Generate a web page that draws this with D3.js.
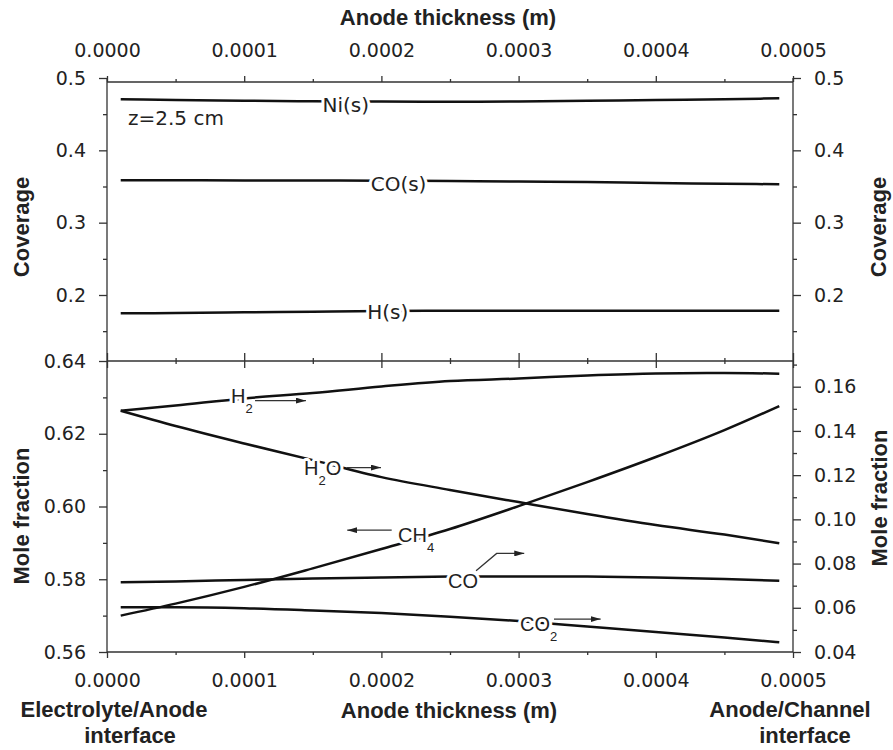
<!DOCTYPE html>
<html>
<head>
<meta charset="utf-8">
<script src="https://cdn.jsdelivr.net/npm/d3@7"></script>
<style>
  body { margin: 0; background: #fff; }
  svg { display: block; }
  .tick text { font-family: "DejaVu Sans", Verdana, sans-serif; font-size: 19px; fill: #222; }
  .tick line { stroke: #333; stroke-width: 1.3; }
  .axis .domain { display: none; }
  .frame { stroke: #333; stroke-width: 1.3; fill: none; }
  .title { font-family: "Liberation Sans", Arial, sans-serif; font-weight: bold; font-size: 22px; fill: #222; }
  .curve { fill: none; stroke: #111; stroke-width: 2.5; }
  .cov-label { font-family: "DejaVu Sans", Verdana, sans-serif; font-size: 20px; fill: #222; }
  .gas-label { font-family: "Liberation Sans", Arial, sans-serif; font-size: 20px; fill: #222; }
  .halo { paint-order: stroke; stroke: #fff; stroke-width: 6; stroke-linejoin: round; }
  .arrow { fill: none; stroke: #333; stroke-width: 1.3; }
</style>
</head>
<body>
<svg id="chart" width="893" height="750"></svg>
<script>
(function () {
  "use strict";

  // anode thickness (m)
  const thickness = [0.00001, 0.00005, 0.0001, 0.00015, 0.0002, 0.00025, 0.0003, 0.00035, 0.0004, 0.00045, 0.00049];

  // surface coverages (top panel)
  const niS = [0.4706, 0.4696, 0.4686, 0.4678, 0.4675, 0.4672, 0.4675, 0.4685, 0.4696, 0.4707, 0.4719];
  const coS = [0.3586, 0.3586, 0.3583, 0.3583, 0.3580, 0.3576, 0.3569, 0.3562, 0.3548, 0.3539, 0.3530];
  const hS = [0.1747, 0.1751, 0.1761, 0.1769, 0.1779, 0.1783, 0.1783, 0.1783, 0.1783, 0.1783, 0.1783];

  // mole fractions (bottom panel); ch4 on left axis, the rest on right axis
  const ch4 = [0.5700, 0.5733, 0.5779, 0.5830, 0.5883, 0.5938, 0.6001, 0.6067, 0.6136, 0.6210, 0.6276];
  const h2 = [0.1491, 0.1515, 0.1547, 0.1571, 0.1601, 0.1626, 0.1637, 0.1651, 0.1660, 0.1662, 0.1659];
  const h2o = [0.1491, 0.1422, 0.1343, 0.1268, 0.1191, 0.1133, 0.1078, 0.1024, 0.0974, 0.0931, 0.0892];
  const co = [0.0715, 0.0719, 0.0726, 0.0732, 0.0737, 0.0741, 0.0742, 0.0741, 0.0737, 0.0730, 0.0722];
  const co2 = [0.0602, 0.0602, 0.0598, 0.0588, 0.0576, 0.0560, 0.0540, 0.0515, 0.0490, 0.0466, 0.0444];

  // ticks
  const xMajor = [0, 0.0001, 0.0002, 0.0003, 0.0004, 0.0005];
  const xMinor = [0.00005, 0.00015, 0.00025, 0.00035, 0.00045];
  const covMajor = [0.2, 0.3, 0.4, 0.5];
  const covMinor = [0.15, 0.25, 0.35, 0.45];
  const leftMajor = [0.56, 0.58, 0.60, 0.62, 0.64];
  const leftMinor = [0.57, 0.59, 0.61, 0.63];
  const rightMajor = [0.04, 0.06, 0.08, 0.10, 0.12, 0.14, 0.16];
  const rightMinor = [0.05, 0.07, 0.09, 0.11, 0.13, 0.15, 0.17];

  const svg = d3.select("#chart");
  const L = 107, R = 793, T = 82, MID = 361, B = 652;

  const x = d3.scaleLinear().domain([0, 0.0005]).range([L, R]);
  const yCov = d3.scaleLinear().domain([0.5, 0.2]).range([78, 295]);
  const yLeft = d3.scaleLinear().domain([0.56, 0.64]).range([B, MID]);
  const yRight = d3.scaleLinear().domain([0.04, 0.16]).range([B, 386.7]);

  const f4 = d3.format(".4f");

  function addAxis(axis, tx, ty) {
    const g = svg.append("g").attr("class", "axis").attr("transform", `translate(${tx},${ty})`).call(axis);
    return g;
  }

  // x axes: top, bottom, and crossing ticks on the panel divider
  addAxis(d3.axisTop(x).tickValues(xMajor).tickFormat(f4).tickSize(6).tickPadding(19), 0, T);
  addAxis(d3.axisTop(x).tickValues(xMinor).tickFormat("").tickSize(3), 0, T);
  addAxis(d3.axisBottom(x).tickValues(xMajor).tickFormat(f4).tickSize(6).tickPadding(15.5), 0, B);
  addAxis(d3.axisBottom(x).tickValues(xMinor).tickFormat("").tickSize(3), 0, B);
  addAxis(d3.axisBottom(x).tickValues(xMajor).tickFormat("").tickSize(7), 0, MID);
  addAxis(d3.axisTop(x).tickValues(xMajor).tickFormat("").tickSize(8), 0, MID);
  addAxis(d3.axisBottom(x).tickValues(xMinor).tickFormat("").tickSize(3), 0, MID);
  addAxis(d3.axisTop(x).tickValues(xMinor).tickFormat("").tickSize(3), 0, MID);

  // y axes
  const f1 = d3.format(".1f"), f2 = d3.format(".2f");
  addAxis(d3.axisLeft(yCov).tickValues(covMajor).tickFormat(f1).tickSize(8).tickPadding(13), L, 0);
  addAxis(d3.axisLeft(yCov).tickValues(covMinor).tickFormat("").tickSize(4), L, 0);
  addAxis(d3.axisRight(yCov).tickValues(covMajor).tickFormat(f1).tickSize(8).tickPadding(13), R, 0);
  addAxis(d3.axisRight(yCov).tickValues(covMinor).tickFormat("").tickSize(4), R, 0);
  addAxis(d3.axisLeft(yLeft).tickValues(leftMajor).tickFormat(f2).tickSize(8).tickPadding(13), L, 0);
  addAxis(d3.axisLeft(yLeft).tickValues(leftMinor).tickFormat("").tickSize(4), L, 0);
  addAxis(d3.axisRight(yRight).tickValues(rightMajor).tickFormat(f2).tickSize(8).tickPadding(13), R, 0);
  addAxis(d3.axisRight(yRight).tickValues(rightMinor).tickFormat("").tickSize(4), R, 0);

  // frame
  const top = yCov(0.5);
  svg.append("path").attr("class", "frame")
    .attr("d", `M${L},${top}V${B}H${R}V${top}M${L},${T}H${R}M${L},${MID}H${R}`);

  // curves
  function drawCurve(values, y) {
    const line = d3.line()
      .x((d, i) => x(thickness[i]))
      .y(d => y(d))
      .curve(d3.curveMonotoneX);
    svg.append("path").datum(values).attr("class", "curve").attr("d", line);
  }
  drawCurve(niS, yCov);
  drawCurve(coS, yCov);
  drawCurve(hS, yCov);
  drawCurve(ch4, yLeft);
  drawCurve(h2, yRight);
  drawCurve(h2o, yRight);
  drawCurve(co, yRight);
  drawCurve(co2, yRight);

  // coverage labels
  const covLabels = [
    { text: "Ni(s)", x: 0.000174, y: 0.4627, anchor: "middle", halo: true },
    { text: "CO(s)", x: 0.0002125, y: 0.3544, anchor: "middle", halo: true },
    { text: "H(s)", x: 0.0002046, y: 0.1769, anchor: "middle", halo: true },
    { text: "z=2.5 cm", x: 0.0000153, y: 0.4443, anchor: "start", halo: false }
  ];
  covLabels.forEach(d => {
    svg.append("text")
      .attr("class", "cov-label" + (d.halo ? " halo" : ""))
      .attr("x", x(d.x)).attr("y", yCov(d.y)).attr("dy", "0.36em")
      .attr("text-anchor", d.anchor)
      .text(d.text);
  });

  // gas labels with subscripts
  const gasLabels = [
    { main: "H", sub: "2", tail: "", x: 0.0000904, y: 0.1558, scale: yRight },
    { main: "H", sub: "2", tail: "O", x: 0.0001436, y: 0.1231, scale: yRight },
    { main: "CH", sub: "4", tail: "", x: 0.0002121, y: 0.5922, scale: yLeft },
    { main: "CO", sub: "", tail: "", x: 0.0002485, y: 0.0723, scale: yRight },
    { main: "CO", sub: "2", tail: "", x: 0.0003010, y: 0.0526, scale: yRight }
  ];
  gasLabels.forEach(d => {
    const t = svg.append("text")
      .attr("class", "gas-label halo")
      .attr("x", x(d.x)).attr("y", d.scale(d.y)).attr("dy", "0.36em");
    t.append("tspan").text(d.main);
    if (d.sub) t.append("tspan").attr("dy", 10).attr("font-size", 13).text(d.sub);
    if (d.tail) t.append("tspan").attr("dy", -10).text(d.tail);
  });

  // arrows pointing to the axis each curve belongs to
  svg.append("defs").append("marker")
    .attr("id", "head").attr("viewBox", "0 0 10 6")
    .attr("refX", 10).attr("refY", 3)
    .attr("markerWidth", 10).attr("markerHeight", 6)
    .attr("markerUnits", "userSpaceOnUse").attr("orient", "auto")
    .append("path").attr("d", "M0,0L10,3L0,6Z").attr("fill", "#222");

  const arrows = [
    { pts: [[0.0001079, 0.1537], [0.0001450, 0.1537]], scale: yRight },
    { pts: [[0.0001747, 0.1234], [0.0001997, 0.1234]], scale: yRight },
    { pts: [[0.0002075, 0.5935], [0.0001751, 0.5935]], scale: yLeft },
    { pts: [[0.0002690, 0.0768], [0.0002840, 0.0846], [0.0003041, 0.0846]], scale: yRight },
    { pts: [[0.0003258, 0.0549], [0.0003598, 0.0549]], scale: yRight }
  ];
  arrows.forEach(a => {
    svg.append("path")
      .attr("class", "arrow")
      .attr("marker-end", "url(#head)")
      .attr("d", d3.line().x(p => x(p[0])).y(p => a.scale(p[1]))(a.pts));
  });

  // axis titles
  const cx = (L + R) / 2;
  svg.append("text").attr("class", "title").attr("x", cx - 2).attr("y", 25)
    .attr("text-anchor", "middle").text("Anode thickness (m)");
  svg.append("text").attr("class", "title").attr("x", cx - 1).attr("y", 718)
    .attr("text-anchor", "middle").text("Anode thickness (m)");
  svg.append("text").attr("class", "title").attr("x", 114).attr("y", 717)
    .attr("text-anchor", "middle").text("Electrolyte/Anode");
  svg.append("text").attr("class", "title").attr("x", 130).attr("y", 743)
    .attr("text-anchor", "middle").text("interface");
  svg.append("text").attr("class", "title").attr("x", 790).attr("y", 717)
    .attr("text-anchor", "middle").text("Anode/Channel");
  svg.append("text").attr("class", "title").attr("x", 805).attr("y", 743)
    .attr("text-anchor", "middle").text("interface");

  function vTitle(text, tx, ty) {
    svg.append("text").attr("class", "title")
      .attr("transform", `translate(${tx},${ty}) rotate(-90)`)
      .attr("text-anchor", "middle").text(text);
  }
  vTitle("Coverage", 29, 227);
  vTitle("Coverage", 886, 227);
  vTitle("Mole fraction", 29, 516);
  vTitle("Mole fraction", 887, 498);
})();
</script>
</body>
</html>
